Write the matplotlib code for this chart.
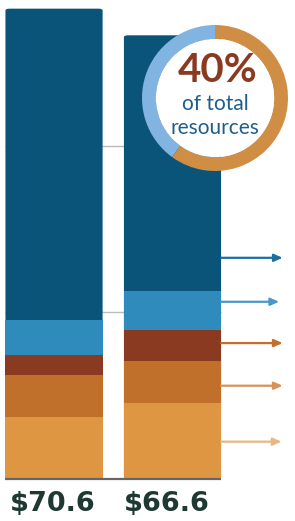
import matplotlib.pyplot as plt
from matplotlib.patches import FancyBboxPatch, Circle

# data (bottom segment first)
totals = [70.6, 66.6]
total_labels = ['$70.6', '$66.6']
seg_light_orange = [9.3, 11.4]
seg_orange = [6.3, 6.3]
seg_red = [3.0, 4.65]
seg_light_blue = [5.25, 5.85]
seg_dark_blue = [46.75, 38.4]
seg_colors = ['#df9642', '#c1702b', '#8b3a22', '#2e8bbc', '#0b5479']

grid_levels = [25, 50]
arrow_levels = [33.2, 26.6, 20.4, 14.0, 5.6]
arrow_colors = ['#1a6fa0', '#4a97c8', '#c46e2e', '#d9915a', '#e8b683']
arrow_ends = [1.93, 1.90, 1.93, 1.93, 1.92]

ring_values = [40, 60]
ring_colors = ['#82b4e2', '#d08e44']

fig = plt.figure(figsize=(2.95, 5.21), dpi=100)
ax = fig.add_axes([0, 0, 1, 1])
ax.set_xlim(-0.456, 2.034)
ax.set_ylim(-6.31, 71.9)
ax.axis('off')

x = [0, 1]
width = 0.82

# gridlines behind the bars
ax.hlines(grid_levels, -width / 2, 1 + width / 2, color='#bbbbbb', lw=1, zorder=0)

# top segment drawn as one rounded box over the full height, others stacked on top
for xi, tot in zip(x, totals):
    box = FancyBboxPatch((xi - width / 2, 0), width, tot,
                         boxstyle='round,pad=0,rounding_size=0.035',
                         mutation_aspect=7.9, fc=seg_colors[4], ec='none', zorder=1)
    ax.add_patch(box)

bottom = [0, 0]
for vals, col in zip([seg_light_orange, seg_orange, seg_red, seg_light_blue],
                     seg_colors[:4]):
    ax.bar(x, vals, width, bottom=bottom, color=col, zorder=2)
    bottom = [b + v for b, v in zip(bottom, vals)]

# baseline
ax.hlines(0, -width / 2, 1 + width / 2, color='#666666', lw=1.6, zorder=3)

# total labels
for xi, lab, off in zip(x, total_labels, [0.035, 0.0]):
    ax.text(xi - width / 2 + off, -1.75, lab, ha='left', va='top',
            fontsize=19.5, fontweight='bold', color='#1e3832', family='DejaVu Sans')

# arrows
for lvl, col, xe in zip(arrow_levels, arrow_colors, arrow_ends):
    ax.annotate('', xy=(xe, lvl), xytext=(1 + width / 2, lvl),
                arrowprops=dict(arrowstyle='-|>,head_length=0.5,head_width=0.22',
                                color=col, lw=1.6, shrinkA=0, shrinkB=0))

# donut
r_px = 73
cx, cy = 215, 521 - 98
dax = fig.add_axes([(cx - r_px) / 295, (cy - r_px) / 521, 2 * r_px / 295, 2 * r_px / 521])
dax.pie(ring_values, colors=ring_colors, startangle=90, counterclock=True,
        radius=1, wedgeprops=dict(width=0.19, edgecolor='none'))
dax.add_patch(Circle((0, 0), 0.81, fc='white', ec='none'))
dax.set_xlim(-1, 1)
dax.set_ylim(-1, 1)
dax.axis('off')
dax.text(0.03, 0.37, '40%', ha='center', va='center', fontsize=29,
         fontweight='bold', color='#8b3a22', family='Lato')
dax.text(0, -0.08, 'of total', ha='center', va='center', fontsize=15,
         color='#1d5f8a', family='Lato')
dax.text(0, -0.41, 'resources', ha='center', va='center', fontsize=15,
         color='#1d5f8a', family='Lato')

fig.savefig('out.png', dpi=100)
